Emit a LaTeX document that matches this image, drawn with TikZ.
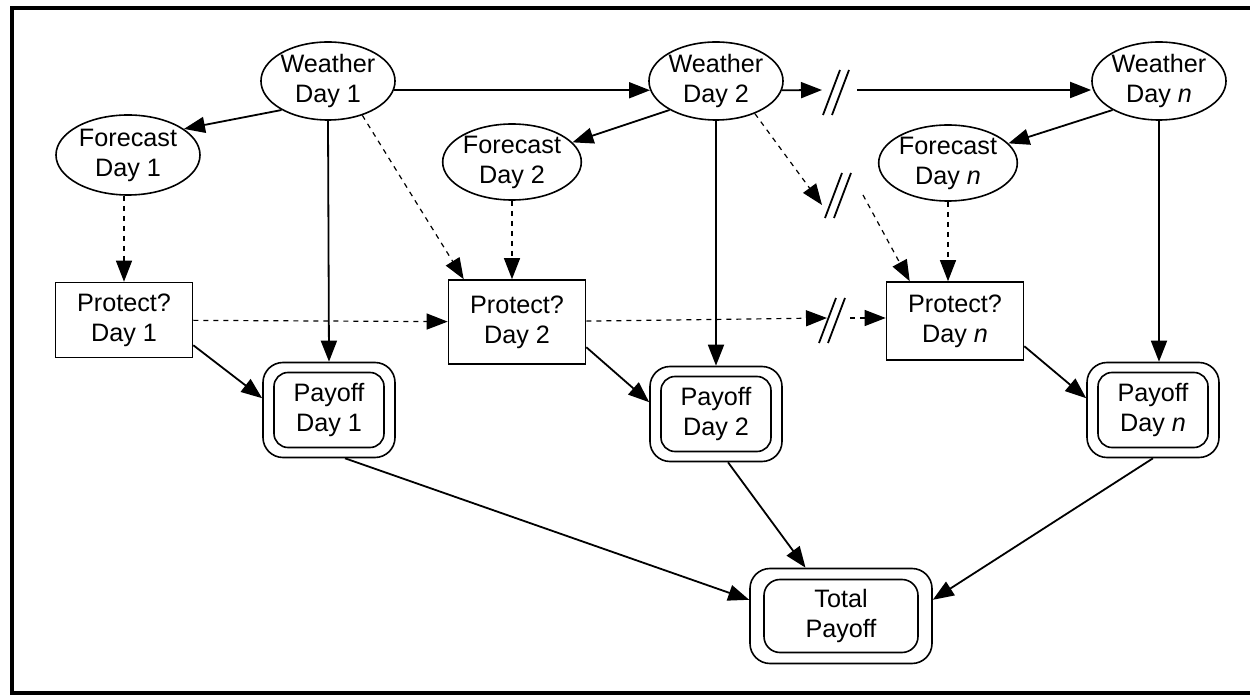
\documentclass[tikz,border=0pt]{standalone}
\usepackage{fontspec}
\setmainfont{Liberation Sans}
\usetikzlibrary{arrows.meta,shapes.geometric,calc}
\begin{document}
\begin{tikzpicture}[x=0.5pt,y=-0.5pt,
  every node/.style={font=\fontsize{12.6}{15}\selectfont, align=center, inner sep=0pt},
  chance/.style={ellipse,draw,line width=0.8pt,minimum width=65pt,minimum height=39pt},
  decision/.style={rectangle,draw,line width=0.8pt,minimum width=68.5pt,minimum height=37.5pt},
  value/.style={rectangle,draw,line width=0.8pt,rounded corners=10pt,
    minimum width=66pt,minimum height=47.5pt,
    path picture={\draw[line width=0.8pt,rounded corners=7pt]
      ([shift={(5.5pt,5pt)}]path picture bounding box.south west) rectangle
      ([shift={(-5.5pt,-5pt)}]path picture bounding box.north east);}},
  conn/.style={line width=0.9pt,-{Triangle[length=10.5pt,width=8pt]}},
  dconn/.style={line width=0.6pt,dash pattern=on 2.5pt off 2.5pt,-{Triangle[length=10.5pt,width=8pt]}},
  brk/.pic={\draw[line width=0.9pt] (-13,23) -- (4,-22) (-4,23) -- (13,-22);}
]
\useasboundingbox (0,0) rectangle (1250,695);

% frame
\draw[line width=2pt] (1252,8) -- (12,8) -- (12,693) -- (1252,693);

% chance nodes
\node[chance] (w1) at (328,81) {Weather\\Day 1};
\node[chance] (w2) at (716,81) {Weather\\Day 2};
\node[chance] (wn) at (1159,81) {Weather\\Day \textit{n}};
\node[chance,minimum width=72pt,minimum height=40pt] (f1) at (128,155) {Forecast\\Day 1};
\node[chance,minimum width=68pt,minimum height=38pt] (f2) at (512,162) {Forecast\\Day 2};
\node[chance,minimum width=67pt,minimum height=38pt] (fn) at (948,163) {Forecast\\Day \textit{n}};

% decision nodes
\node[decision] (p1) at (124,320) {Protect?\\Day 1};
\node[decision,minimum height=42pt] (p2) at (517,322) {Protect?\\Day 2};
\node[decision,minimum height=39pt] (pn) at (955,321) {Protect?\\Day \textit{n}};

% value nodes
\node[value] (pay1) at (329,410) {Payoff\\Day 1};
\node[value] (pay2) at (716,414) {Payoff\\Day 2};
\node[value] (payn) at (1153,410) {Payoff\\Day \textit{n}};
\node[value,minimum width=91pt,path picture={\draw[line width=0.8pt,rounded corners=8pt]
      ([shift={(7pt,5.5pt)}]path picture bounding box.south west) rectangle
      ([shift={(-7pt,-5.5pt)}]path picture bounding box.north east);}]
  (tot) at (841,616) {Total\\Payoff};

% break points of the chains
\coordinate (b1in) at (822,90);
\coordinate (b1out) at (857,90);
\coordinate (b2in) at (822,205);
\coordinate (b2out) at (863,195);
\coordinate (b3in) at (827,318);
\coordinate (b3out) at (850,318);
\pic at (836,92) {brk};
\pic at (838,195) {brk};
\pic at (832,320) {brk};

% weather chain
\draw[conn] (w1.-8) -- (w2.188);
\draw[conn] (w2.-8) -- (b1in);
\draw[conn] (b1out) -- (b1out -| wn.west);

% weather to forecast
\draw[conn] (w1.212) -- (f1.25);
\draw[conn] (w2.212) -- (f2.18);
\draw[conn] (wn.212) -- (fn.18);

% weather to payoff
\draw[conn] (w1.south) -- (pay1.north);
\draw[conn] (w2.south) -- (pay2.north);
\draw[conn] (wn.south) -- (wn.south |- payn.north);

% information arcs
\draw[dconn] (w1.-45) -- ([xshift=8pt]p2.north west);
\draw[dconn] (w2.-40) -- (b2in);
\draw[dconn] (b2out) -- ([xshift=12pt]pn.north west);
\draw[dconn] (p1.north |- f1.south) -- (p1.north);
\draw[dconn] (f2.south) -- (f2.south |- p2.north);
\draw[dconn] (fn.south) -- (fn.south |- pn.north);
\draw[dconn] (p1) -- (p2);
\draw[dconn] (p2) -- (b3in);
\draw[dconn] (b3out) -- (b3out -| pn.west);

% decisions to payoffs
\draw[conn] (p1.-20) -- (pay1.170);
\draw[conn] (p2.-20) -- (pay2.170);
\draw[conn] (pn.-20) -- (payn.170);

% payoffs to total
\draw[conn] ([xshift=8pt]pay1.south) -- (tot.170);
\draw[conn] ([xshift=6pt]pay2.south) -- (tot);
\draw[conn] (payn.south) -- (tot.10);
\end{tikzpicture}
\end{document}
